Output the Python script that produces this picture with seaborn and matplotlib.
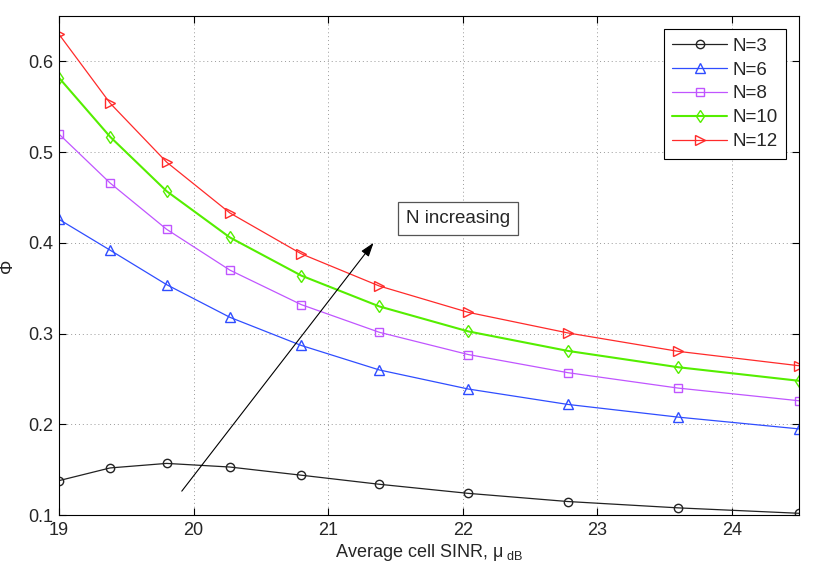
import pandas as pd
import matplotlib
matplotlib.use("Agg")
import matplotlib.pyplot as plt
import seaborn as sns

sns.set_style("ticks")
plt.rcParams['font.family'] = ['Liberation Sans', 'DejaVu Sans']
plt.rcParams['mathtext.fontset'] = 'custom'
plt.rcParams['mathtext.rm'] = 'Liberation Sans'
plt.rcParams['mathtext.it'] = 'Liberation Sans:italic'

# average cell SINR (dB) at the marker positions
sinr_db = [19.0, 19.38, 19.80, 20.27, 20.80, 21.38, 22.04, 22.78, 23.60, 24.5]

phi_n3 = [0.138, 0.152, 0.157, 0.153, 0.144, 0.134, 0.124, 0.115, 0.108, 0.102]
phi_n6 = [0.426, 0.392, 0.354, 0.318, 0.287, 0.260, 0.239, 0.222, 0.208, 0.195]
phi_n8 = [0.520, 0.466, 0.415, 0.370, 0.332, 0.3015, 0.277, 0.257, 0.240, 0.226]
phi_n10 = [0.582, 0.517, 0.457, 0.406, 0.364, 0.330, 0.3025, 0.281, 0.263, 0.248]
phi_n12 = [0.630, 0.554, 0.489, 0.433, 0.388, 0.3525, 0.3235, 0.3008, 0.2805, 0.2646]

labels = ["N=3", "N=6", "N=8", "N=10", "N=12"]
series = [phi_n3, phi_n6, phi_n8, phi_n10, phi_n12]
colors = ["#222222", "#2f4dff", "#c055ff", "#55ee00", "#ff2a2a"]
markers = ["o", "^", "s", "d", ">"]
sizes = [6, 6.5, 5.5, 6.5, 6.5]
widths = [0.9, 0.9, 0.9, 1.5, 0.9]

fig = plt.figure(figsize=(8.3, 5.73), dpi=100)
ax = fig.add_axes([0.071, 0.101, 0.892, 0.871])

for lab, vals, col, mk, ms, lw in zip(labels, series, colors, markers, sizes, widths):
    df = pd.DataFrame({"sinr": sinr_db, "phi": vals})
    sns.lineplot(data=df, x="sinr", y="phi", ax=ax, color=col, lw=lw,
                 marker=mk, ms=ms, mfc="none", mec=col, mew=1.0, label=lab)

# N increasing arrow + box
ax.annotate("", xy=(21.35, 0.4025), xytext=(19.9, 0.124),
            arrowprops=dict(arrowstyle="-|>,head_length=0.6,head_width=0.2",
                            color="black", lw=0.8, mutation_scale=14))
ax.text(21.58, 0.4268, "N increasing", fontsize=13.5, va="center", ha="left",
        bbox=dict(boxstyle="square,pad=0.42", fc="white", ec="#555555", lw=0.9))

ax.set_xlim(19, 24.5)
ax.set_ylim(0.1, 0.65)
ax.set_xticks([19, 20, 21, 22, 23, 24])
ax.set_yticks([0.1, 0.2, 0.3, 0.4, 0.5, 0.6])
ax.set_yticklabels(["0.1", "0.2", "0.3", "0.4", "0.5", "0.6"])
ax.grid(True, color="#999999", linestyle=(0, (1, 3)), lw=0.7)
ax.tick_params(direction="in", length=5, width=0.8, labelsize=13,
               top=True, right=True, color="black")
ax.tick_params(axis="x", pad=5)
ax.tick_params(axis="y", pad=4)
for sp in ax.spines.values():
    sp.set_color("black")
    sp.set_linewidth(0.8)

ax.set_xlabel(r"Average cell SINR, μ$_{\mathregular{\ dB}}$", fontsize=13, labelpad=2)
ax.set_ylabel("Φ", fontsize=13, labelpad=9)

leg = ax.legend(loc="upper right", fontsize=13.5, frameon=True, fancybox=False,
                edgecolor="black", framealpha=1, borderaxespad=0.7,
                handlelength=2.9, labelspacing=0.36, borderpad=0.45,
                handletextpad=0.3)
leg.get_frame().set_linewidth(0.8)

fig.savefig("out.png", dpi=100)
